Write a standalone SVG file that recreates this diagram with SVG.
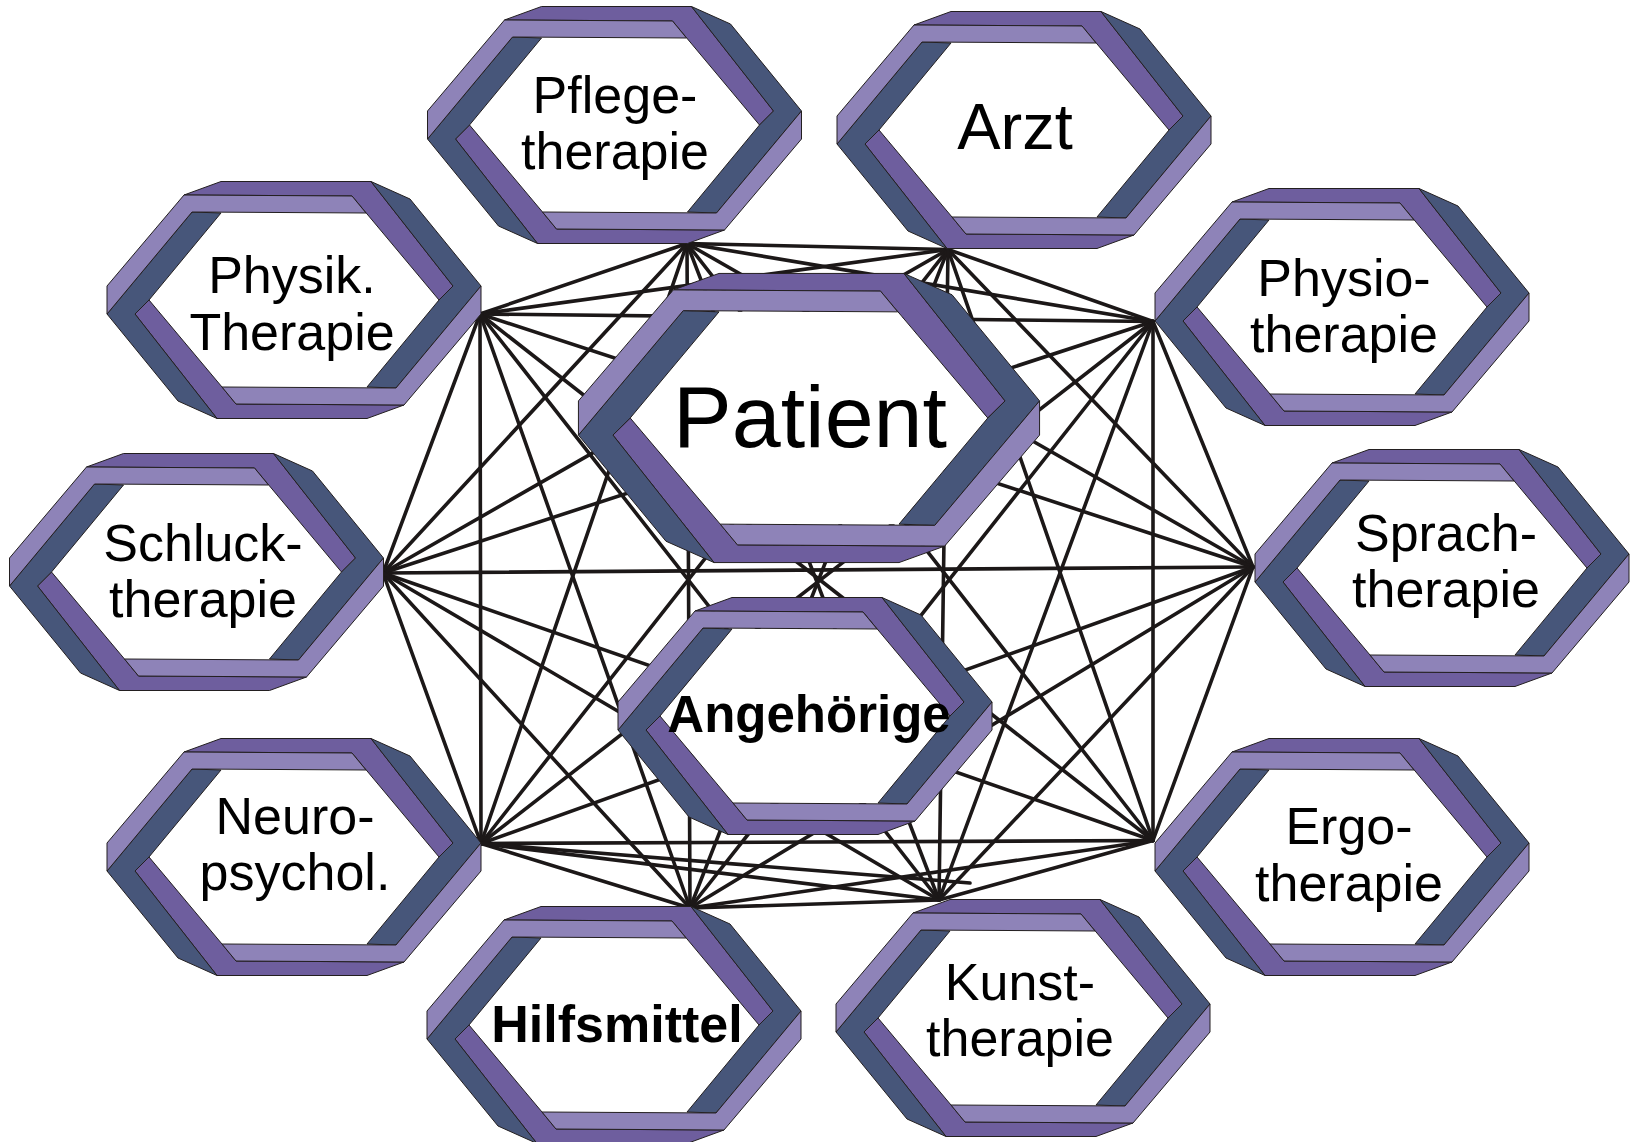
<svg xmlns="http://www.w3.org/2000/svg" xmlns:xlink="http://www.w3.org/1999/xlink" width="1638" height="1142" viewBox="0 0 1638 1142">
<style>
.bg{fill:#ffffff}
.hole{fill:#ffffff;stroke:none}
.lt{fill:#8e83b8;stroke:#231f20;stroke-width:1;stroke-linejoin:round;vector-effect:non-scaling-stroke}
.pu{fill:#6e5e9e;stroke:#231f20;stroke-width:1;stroke-linejoin:round;vector-effect:non-scaling-stroke}
.dk{fill:#47567a;stroke:#231f20;stroke-width:1;stroke-linejoin:round;vector-effect:non-scaling-stroke}
.conn line{stroke:#1c1818;stroke-width:3.6;stroke-linecap:round}
.t{font-family:"Liberation Sans",Arial,Helvetica,sans-serif;font-size:52px;fill:#000;text-anchor:middle}
.b{font-weight:bold}
</style>
<defs>
<g id="hex">
<polygon class="hole" points="-73,-87 72,-87 145,0 73,87 -72,87 -145,0"/>
<polygon class="pu" points="-110,-105 -73,-118.5 77,-118.5 159,-14 145,0 58,-104"/>
<polygon class="pu" points="-159,14 -145,0 -72,87 -58,104 110,105 73,118.5 -77,118.5"/>
<polygon class="dk" points="77,-118.5 116,-101 187,-14 102,88 73,87 145,0 159,-14"/>
<polygon class="dk" points="-77,118.5 -116,101 -187,14 -102,-88 -73,-87 -145,0 -159,14"/>
<polygon class="lt" points="72,-87 -102,-88 -187,14 -187,-14 -110,-105 58,-104"/>
<polygon class="lt" points="-72,87 102,88 187,-14 187,14 110,105 -58,104"/>
</g>
</defs>
<rect class="bg" x="0" y="0" width="1638" height="1142"/>
<g id="connectors" class="conn">
<line x1="687" y1="243.5" x2="948" y2="249.5"/>
<line x1="687" y1="243.5" x2="480" y2="314"/>
<line x1="687" y1="243.5" x2="1153" y2="321.5"/>
<line x1="687" y1="243.5" x2="383" y2="573"/>
<line x1="687" y1="243.5" x2="1253" y2="567"/>
<line x1="687" y1="243.5" x2="481" y2="843.5"/>
<line x1="687" y1="243.5" x2="1153" y2="840.5"/>
<line x1="687" y1="243.5" x2="690" y2="908"/>
<line x1="687" y1="243.5" x2="939" y2="900"/>
<line x1="948" y1="249.5" x2="480" y2="314"/>
<line x1="948" y1="249.5" x2="1153" y2="321.5"/>
<line x1="948" y1="249.5" x2="383" y2="573"/>
<line x1="948" y1="249.5" x2="1253" y2="567"/>
<line x1="948" y1="249.5" x2="481" y2="843.5"/>
<line x1="948" y1="249.5" x2="1153" y2="840.5"/>
<line x1="948" y1="249.5" x2="690" y2="908"/>
<line x1="948" y1="249.5" x2="939" y2="900"/>
<line x1="480" y1="314" x2="1153" y2="321.5"/>
<line x1="480" y1="314" x2="383" y2="573"/>
<line x1="480" y1="314" x2="1253" y2="567"/>
<line x1="480" y1="314" x2="481" y2="843.5"/>
<line x1="480" y1="314" x2="1153" y2="840.5"/>
<line x1="480" y1="314" x2="690" y2="908"/>
<line x1="480" y1="314" x2="939" y2="900"/>
<line x1="1153" y1="321.5" x2="383" y2="573"/>
<line x1="1153" y1="321.5" x2="1253" y2="567"/>
<line x1="1153" y1="321.5" x2="481" y2="843.5"/>
<line x1="1153" y1="321.5" x2="1153" y2="840.5"/>
<line x1="1153" y1="321.5" x2="690" y2="908"/>
<line x1="1153" y1="321.5" x2="939" y2="900"/>
<line x1="383" y1="573" x2="1253" y2="567"/>
<line x1="383" y1="573" x2="481" y2="843.5"/>
<line x1="383" y1="573" x2="1153" y2="840.5"/>
<line x1="383" y1="573" x2="690" y2="908"/>
<line x1="383" y1="573" x2="939" y2="900"/>
<line x1="1253" y1="567" x2="481" y2="843.5"/>
<line x1="1253" y1="567" x2="1153" y2="840.5"/>
<line x1="1253" y1="567" x2="690" y2="908"/>
<line x1="1253" y1="567" x2="939" y2="900"/>
<line x1="481" y1="843.5" x2="1153" y2="840.5"/>
<line x1="481" y1="843.5" x2="690" y2="908"/>
<line x1="481" y1="843.5" x2="939" y2="900"/>
<line x1="1153" y1="840.5" x2="690" y2="908"/>
<line x1="1153" y1="840.5" x2="939" y2="900"/>
<line x1="690" y1="908" x2="939" y2="900"/>
<line x1="481" y1="843.5" x2="970" y2="883"/>
</g>
<g id="node-pflegetherapie">
<use xlink:href="#hex" href="#hex" transform="translate(614.5,125)"/>
<text class="t" x="615" y="113">Pflege-</text>
<text class="t" x="615" y="169">therapie</text>
</g>
<g id="node-arzt">
<use xlink:href="#hex" href="#hex" transform="translate(1024,130)"/>
<text class="t" x="1015" y="149" style="font-size:65px">Arzt</text>
</g>
<g id="node-physik-therapie">
<use xlink:href="#hex" href="#hex" transform="translate(294,300)"/>
<text class="t" x="292" y="293">Physik.</text>
<text class="t" x="292" y="350">Therapie</text>
</g>
<g id="node-physiotherapie">
<use xlink:href="#hex" href="#hex" transform="translate(1342,307)"/>
<text class="t" x="1344" y="296">Physio-</text>
<text class="t" x="1344" y="352">therapie</text>
</g>
<g id="node-schlucktherapie">
<use xlink:href="#hex" href="#hex" transform="translate(196.5,572)"/>
<text class="t" x="203" y="561">Schluck-</text>
<text class="t" x="203" y="617">therapie</text>
</g>
<g id="node-sprachtherapie">
<use xlink:href="#hex" href="#hex" transform="translate(1442,568)"/>
<text class="t" x="1446" y="551">Sprach-</text>
<text class="t" x="1446" y="607">therapie</text>
</g>
<g id="node-neuropsychol">
<use xlink:href="#hex" href="#hex" transform="translate(294,857)"/>
<text class="t" x="295" y="834">Neuro-</text>
<text class="t" x="295" y="890">psychol.</text>
</g>
<g id="node-ergotherapie">
<use xlink:href="#hex" href="#hex" transform="translate(1342,857)"/>
<text class="t" x="1349" y="844">Ergo-</text>
<text class="t" x="1349" y="901">therapie</text>
</g>
<g id="node-hilfsmittel">
<use xlink:href="#hex" href="#hex" transform="translate(614,1025)"/>
<text class="t b" x="617" y="1042">Hilfsmittel</text>
</g>
<g id="node-kunsttherapie">
<use xlink:href="#hex" href="#hex" transform="translate(1023,1018)"/>
<text class="t" x="1020" y="1000">Kunst-</text>
<text class="t" x="1020" y="1056">therapie</text>
</g>
<g id="node-patient">
<use xlink:href="#hex" href="#hex" transform="translate(809,418) scale(1.233,1.22)"/>
<text class="t" x="810" y="447" style="font-size:88px">Patient</text>
</g>
<g id="node-angehoerige">
<use xlink:href="#hex" href="#hex" transform="translate(805,716)"/>
<text class="t b" x="809" y="732" style="font-size:51px">Angehörige</text>
</g>
</svg>
